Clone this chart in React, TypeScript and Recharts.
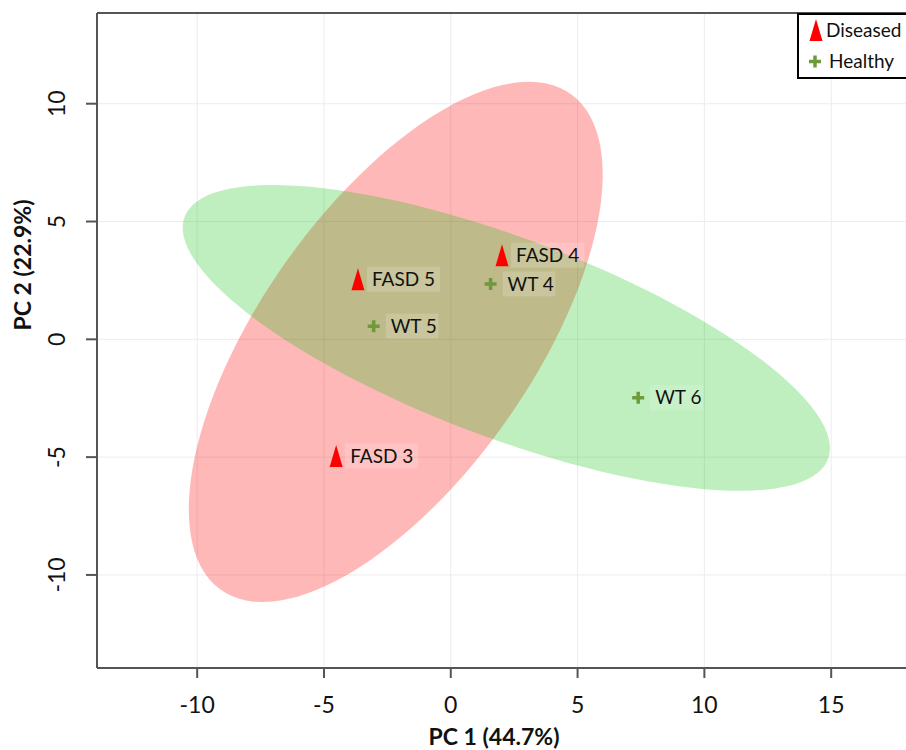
import { ScatterChart, Scatter, XAxis, YAxis, CartesianGrid, Legend } from 'recharts'

const FONT = "Lato, 'Liberation Sans', sans-serif"

// samples (PCA scores)
const sampleNames = ['FASD 3', 'FASD 4', 'FASD 5', 'WT 4', 'WT 5', 'WT 6']
const sampleGroups = ['Diseased', 'Diseased', 'Diseased', 'Healthy', 'Healthy', 'Healthy']
const pc1 = [-4.52, 2.02, -3.66, 1.57, -3.04, 7.39]
const pc2 = [-4.95, 3.57, 2.55, 2.35, 0.56, -2.48]

// groups and their 95% regions (centre, semi axes, rotation in degrees)
const groups = ['Diseased', 'Healthy']
const groupColors = ['#ff0000', '#6f9a3c']
const regionColors = ['#ff0000', '#00c000']
const regionOpacity = [0.28, 0.25]
const regionCx = [-2.17, 2.19]
const regionCy = [-0.11, 0.06]
const regionMajor = [12.59, 13.69]
const regionMinor = [5.48, 4.19]
const regionAngle = [57.75, -22.35]

const xTicks = [-10, -5, 0, 5, 10, 15]
const yTicks = [-10, -5, 0, 5, 10]
const xDomain = [-13.95, 17.95]
const yDomain = [-13.95, 13.85]

const pointsOf = (g: string) =>
  sampleNames
    .map((name, i) => ({ name, group: sampleGroups[i], x: pc1[i], y: pc2[i] }))
    .filter((d) => d.group === g)

const outlineOf = (i: number) => {
  const n = 120
  const th = (regionAngle[i] * Math.PI) / 180
  const out = []
  for (let k = 0; k < n; k++) {
    const t = (2 * Math.PI * k) / n
    const a = regionMajor[i] * Math.cos(t)
    const b = regionMinor[i] * Math.sin(t)
    out.push({
      x: regionCx[i] + a * Math.cos(th) - b * Math.sin(th),
      y: regionCy[i] + a * Math.sin(th) + b * Math.cos(th),
    })
  }
  return out
}

const Triangle = ({ cx, cy, color }: any) => (
  <path d={`M${cx},${cy - 11}L${cx + 6.5},${cy + 11}L${cx - 6.5},${cy + 11}Z`} fill={color} />
)

const Plus = ({ cx, cy, color }: any) => (
  <path d={`M${cx - 6},${cy}H${cx + 6}M${cx},${cy - 6}V${cy + 6}`} stroke={color} strokeWidth={3.5} fill="none" />
)

const makeShape = (gi: number) => (props: any) => {
  const { cx, cy, payload } = props
  const Marker = gi === 0 ? Triangle : Plus
  const tx = cx + (gi === 0 ? 14 : 17)
  const w = payload.name.length * 10.2
  return (
    <g>
      <rect x={tx - 5} y={cy - 12.5} width={w + 12} height={25} fill="#ffffff" fillOpacity={0.16} />
      <Marker cx={cx} cy={cy} color={groupColors[gi]} />
      <text x={tx} y={cy} dy="0.35em" fontSize={19} fontFamily={FONT} fill="#111">
        {payload.name}
      </text>
    </g>
  )
}

const regionLine = (gi: number) => (props: any) => {
  const pts = props.points || []
  const d = pts.map((p: any, k: number) => `${k ? 'L' : 'M'}${p.x},${p.y}`).join('') + 'Z'
  return <path d={d} fill={regionColors[gi]} fillOpacity={regionOpacity[gi]} stroke="none" />
}

const XTick = ({ x, y, payload }: any) => (
  <text x={x} y={y} textAnchor="middle" fontSize={23} fontFamily={FONT} fill="#111">
    {payload.value}
  </text>
)

const YTick = ({ x, y, payload }: any) => (
  <text x={x} y={y} transform={`rotate(-90, ${x}, ${y})`} textAnchor="middle" fontSize={23} fontFamily={FONT} fill="#111">
    {payload.value}
  </text>
)

const renderLegend = (props: any) => {
  const items = (props.payload || []).filter((p: any) => groups.includes(p.value))
  return (
    <div style={{ width: 107, height: 62, border: '2px solid #000', borderRight: 'none', background: '#fff' }}>
      <svg width={107} height={62}>
        {items.map((p: any, i: number) => {
          const gi = groups.indexOf(p.value)
          const cy = 15 + i * 31.5
          return (
            <g key={p.value}>
              {gi === 0 ? <Triangle cx={17} cy={cy} color={groupColors[0]} /> : <Plus cx={16} cy={cy} color={groupColors[1]} />}
              <text x={gi === 0 ? 27 : 30} y={cy} dy="0.35em" fontSize={19} fontFamily={FONT} fill="#111">
                {p.value}
              </text>
            </g>
          )
        })}
      </svg>
    </div>
  )
}

export default function App() {
  return (
    <div style={{ position: 'absolute', left: 0, top: 0, width: 906, height: 750, background: '#fff', overflow: 'hidden' }}>
      <ScatterChart width={906} height={750} margin={{ top: 12, right: 0, bottom: 81, left: 96 }}>
        <CartesianGrid stroke="#ececec" strokeWidth={1} />
        <XAxis
          type="number"
          dataKey="x"
          domain={xDomain}
          ticks={xTicks}
          interval={0}
          allowDataOverflow
          height={1}
          tickSize={10}
          tickMargin={35}
          tick={<XTick />}
          tickLine={{ stroke: '#555', strokeWidth: 2 }}
          axisLine={{ stroke: '#555', strokeWidth: 2 }}
          label={() => (
            <text x={494} y={745} textAnchor="middle" fontSize={23} fontWeight="bold" fontFamily={FONT} fill="#111">
              PC 1 (44.7%)
            </text>
          )}
        />
        <XAxis
          xAxisId="top"
          orientation="top"
          type="number"
          dataKey="x"
          domain={xDomain}
          allowDataOverflow
          height={1}
          tick={false}
          tickLine={false}
          axisLine={{ stroke: '#555', strokeWidth: 2 }}
        />
        <YAxis
          type="number"
          dataKey="y"
          domain={yDomain}
          ticks={yTicks}
          interval={0}
          allowDataOverflow
          width={1}
          tickSize={11}
          tickMargin={21}
          tick={<YTick />}
          tickLine={{ stroke: '#555', strokeWidth: 2 }}
          axisLine={{ stroke: '#555', strokeWidth: 2 }}
          label={() => (
            <text x={31} y={265} transform="rotate(-90, 31, 265)" textAnchor="middle" fontSize={23} fontWeight="bold" fontFamily={FONT} fill="#111">
              PC 2 (22.9%)
            </text>
          )}
        />
        {groups.map((g, gi) => (
          <Scatter
            key={`region-${g}`}
            name={`${g} region`}
            data={outlineOf(gi)}
            line={regionLine(gi)}
            lineType="joint"
            shape={() => <g />}
            legendType="none"
            isAnimationActive={false}
          />
        ))}
        {groups.map((g, gi) => (
          <Scatter
            key={g}
            name={g}
            data={pointsOf(g)}
            fill={groupColors[gi]}
            shape={makeShape(gi)}
            isAnimationActive={false}
          />
        ))}
        <Legend
          layout="horizontal"
          verticalAlign="middle"
          align="center"
          content={renderLegend}
          wrapperStyle={{ top: 13, left: 797, width: 109, height: 66 }}
        />
      </ScatterChart>
    </div>
  )
}
